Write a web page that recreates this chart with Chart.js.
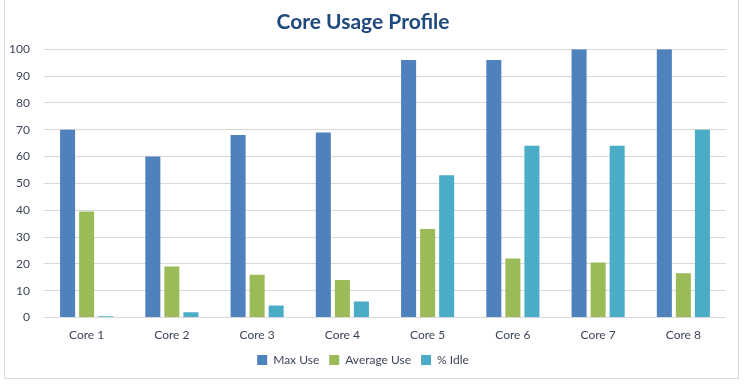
<!DOCTYPE html>
<html lang="en">
<head>
  <meta charset="UTF-8">
  <title>Core Usage Profile</title>
  <script src="https://cdn.jsdelivr.net/npm/chart.js"></script>
  <style>
    body { margin: 0; background: #fff; }
    #frame {
      position: absolute; left: 4px; top: -1px;
      width: 733px; height: 378px;
      border: 1px solid #d9d9d9;
    }
    canvas { position: absolute; left: 0; top: 0; }
  </style>
</head>
<body>
  <div id="frame"></div>
  <canvas id="coreChart" width="747" height="385"></canvas>

  <script>
    // datos
    const cores = ['Core 1', 'Core 2', 'Core 3', 'Core 4', 'Core 5', 'Core 6', 'Core 7', 'Core 8'];
    const maxUse = [70, 60, 68, 69, 96, 96, 100, 100];
    const averageUse = [39.5, 19, 16, 14, 33, 22, 20.5, 16.5];
    const idle = [0.5, 2, 4.5, 6, 53, 64, 64, 70];
    const yTicks = [0, 10, 20, 30, 40, 50, 60, 70, 80, 90, 100];

    const textColor = '#3b4558';
    const ctx = document.getElementById('coreChart').getContext('2d');

    const coreChart = new Chart(ctx, {
      type: 'bar',
      data: {
        labels: cores,
        datasets: [
          { label: 'Max Use', data: maxUse, backgroundColor: '#4f81bd' },
          { label: 'Average Use', data: averageUse, backgroundColor: '#9bbb59' },
          { label: '% Idle', data: idle, backgroundColor: '#4bacc6' }
        ]
      },
      options: {
        responsive: false,
        animation: false,
        layout: { padding: { left: 0, right: 21, top: 2, bottom: 9 } },
        datasets: {
          bar: { categoryPercentage: 0.67, barPercentage: 0.79 }
        },
        plugins: {
          title: {
            display: true,
            text: 'Core Usage Profile',
            color: '#1f497d',
            font: { family: 'Lato', size: 21, weight: 'bold' },
            padding: { top: 8, bottom: 14 }
          },
          legend: {
            position: 'bottom',
            labels: {
              color: textColor,
              font: { family: 'Lato', size: 12 },
              boxWidth: 10,
              boxHeight: 10,
              padding: 10
            }
          },
          tooltip: { enabled: false }
        },
        scales: {
          x: {
            grid: { display: false },
            border: { display: false },
            ticks: { color: textColor, font: { family: 'Lato', size: 12 }, padding: 2 }
          },
          y: {
            min: 0,
            max: 100,
            afterBuildTicks: axis => { axis.ticks = yTicks.map(v => ({ value: v })); },
            afterFit: axis => { axis.width = 44; },
            grid: { color: '#d9d9d9', drawTicks: false },
            border: { display: false },
            ticks: { color: textColor, font: { family: 'Lato', size: 12 }, padding: 14 }
          }
        }
      }
    });
  </script>
</body>
</html>
